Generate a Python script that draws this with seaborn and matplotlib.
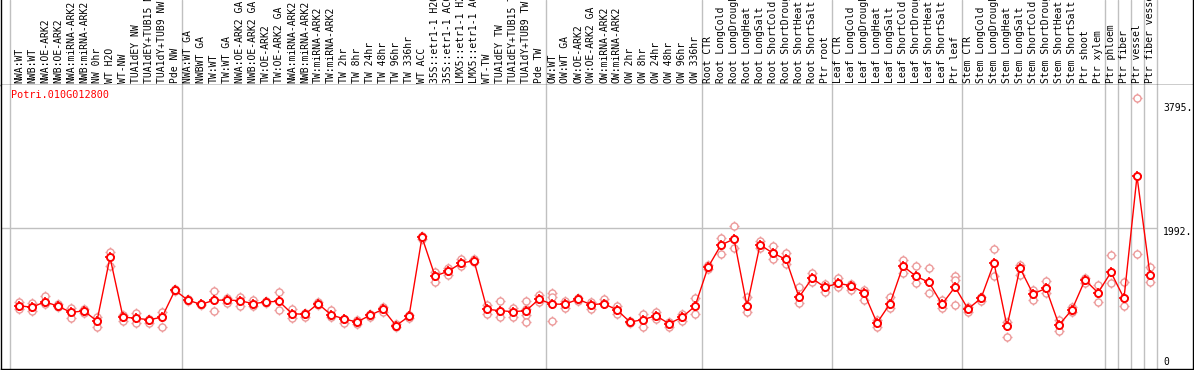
import numpy as np
import pandas as pd
import matplotlib
matplotlib.use("Agg")
import matplotlib.pyplot as plt
import seaborn as sns

# sample labels, in plotting order
labels = [
    "NWA:WT", "NWB:WT", "NWA:OE-ARK2", "NWB:OE-ARK2", "NWA:miRNA-ARK2", "NWB:miRNA-ARK2",
    "NW 0hr", "WT H2O", "WT-NW", "TUA1dEY NW", "TUA1dEY+TUB15 NW", "TUA1dY+TUB9 NW", "Pde NW",
    "NWA:WT GA", "NWBWT GA", "TW:WT", "TW:WT GA", "NWA:OE-ARK2 GA", "NWB:OE-ARK2 GA",
    "TW:OE-ARK2", "TW:OE-ARK2 GA", "NWA:miRNA-ARK2", "NWB:miRNA-ARK2", "TW:miRNA-ARK2",
    "TW:miRNA-ARK2", "TW 2hr", "TW 8hr", "TW 24hr", "TW 48hr", "TW 96hr", "TW 336hr", "WT ACC",
    "35S::etr1-1 H2O", "35S::etr1-1 ACC", "LMX5::etr1-1 H2O", "LMX5::etr1-1 ACC", "WT-TW",
    "TUA1dEY TW", "TUA1dEY+TUB15 TW", "TUA1dY+TUB9 TW", "Pde TW",
    "OW:WT", "OW:WT GA", "OW:OE-ARK2", "OW:OE-ARK2 GA", "OW:miRNA-ARK2", "OW:miRNA-ARK2",
    "OW 2hr", "OW 8hr", "OW 24hr", "OW 48hr", "OW 96hr", "OW 336hr",
    "Root CTR", "Root LongCold", "Root LongDrought", "Root LongHeat", "Root LongSalt",
    "Root ShortCold", "Root ShortDrought", "Root ShortHeat", "Root ShortSalt", "Ptr root",
    "Leaf CTR", "Leaf LongCold", "Leaf LongDrought", "Leaf LongHeat", "Leaf LongSalt",
    "Leaf ShortCold", "Leaf ShortDrought", "Leaf ShortHeat", "Leaf ShortSalt", "Ptr leaf",
    "Stem CTR", "Stem LongCold", "Stem LongDrought", "Stem LongHeat", "Stem LongSalt",
    "Stem ShortCold", "Stem ShortDrought", "Stem ShortHeat", "Stem ShortSalt", "Ptr shoot",
    "Ptr xylem", "Ptr phloem", "Ptr fiber", "Ptr vessel", "Ptr fiber vessel",
]

# number of samples in each block between grey separators
group_sizes = [13, 28, 12, 10, 10, 11, 1, 1, 1, 1]

# mean expression per sample
means = [
    894, 872, 951, 886, 801, 820, 678, 1578, 735, 716, 697, 731, 1112,
    971, 914, 971, 975, 965, 923, 947, 957, 781, 773, 923, 767, 707, 664, 759, 844, 612,
    745, 1861, 1314, 1380, 1494, 1530, 844, 824, 810, 824, 985,
    918, 914, 986, 909, 923, 834, 664, 697, 753, 640, 731, 886,
    1437, 1752, 1837, 886, 1756, 1635, 1550, 1013, 1282, 1154,
    1211, 1177, 1078, 650, 923, 1455, 1310, 1225, 914, 1159,
    848, 999, 1498, 603, 1427, 1060, 1140, 622, 838, 1258, 1078,
    1366, 999, 2723, 1328,
]

# replicate values per sample
reps = [
    [951, 843], [937, 824], [1031, 914], [918, 871], [857, 725], [852, 796], [730, 589],
    [1649, 1451], [763, 683], [796, 654], [711, 654], [805, 589], [1130, 1097],
    [985, 961], [914, 900], [1102, 820], [1008, 933], [1022, 890], [975, 890], [961, 928],
    [1088, 834], [848, 716], [796, 739], [947, 900], [829, 730], [711, 654], [697, 631],
    [777, 739], [881, 805], [631, 598], [763, 725], [1879, 1842], [1375, 1225], [1432, 1328],
    [1550, 1455], [1550, 1512], [900, 773], [961, 735], [866, 730], [961, 843, 767, 660],
    [1041, 951],
    [1078, 1013, 678], [961, 857], [999, 957], [942, 843], [985, 937], [890, 773], [683, 645],
    [777, 589], [810, 711], [669, 593], [777, 678], [1008, 773],
    [1465, 1408], [1856, 1620], [2016, 1705], [1013, 805], [1804, 1705], [1738, 1554],
    [1634, 1479], [1159, 928], [1352, 1234], [1196, 1083],
    [1291, 1163], [1196, 1116], [1116, 970], [692, 598], [1017, 862], [1540, 1352],
    [1451, 1211], [1423, 1069], [975, 857], [1314, 1258, 900],
    [881, 805], [1022, 965], [1691, 1319], [669, 457], [1470, 1328], [1116, 975],
    [1243, 1069], [692, 542], [881, 810], [1291, 1220], [1187, 951],
    [1611, 1211], [1229, 890], [3825, 1625], [1437, 1234],
]

gene = "Potri.010G012800"
ytick_vals = [0, 1992, 3795]

df_mean = pd.DataFrame({"pos": np.arange(len(labels)), "value": means})
df_rep = pd.DataFrame(
    [(i, v) for i, r in enumerate(reps) for v in r], columns=["pos", "value"]
)

sns.set_theme(style="white")
plt.rcParams["font.family"] = ["DejaVu Sans Mono", "DejaVu Sans"]

W, H = 1194, 370
fig = plt.figure(figsize=(W / 100, H / 100), dpi=100)

x0 = (1 - 19) / 13
x1 = (1193 - 19) / 13
ymax = 284 * 1992 / 141

ax_lab = fig.add_axes([1 / W, (H - 85) / H, 1192 / W, 85 / H])
ax = fig.add_axes([1 / W, 1 / H, 1192 / W, 284 / H])

bounds = [-0.7] + list(np.cumsum(group_sizes) - 0.45)

for a in (ax_lab, ax):
    a.set_xlim(x0, x1)
    a.set_xticks([])
    a.set_yticks([])
    for s in ["left", "right", "bottom"]:
        a.spines[s].set_visible(True)
        a.spines[s].set_color("black")
        a.spines[s].set_linewidth(1)
    a.spines["top"].set_visible(False)
    for b in bounds:
        a.axvline(b, color="#c0c0c0", lw=1, zorder=0)

ax_lab.set_ylim(0, 1)
for i, lab in enumerate(labels):
    ax_lab.text(i, 2 / 85, lab, rotation=90, ha="center", va="bottom",
                fontsize=7, color="black", clip_on=True)

ax.set_ylim(0, ymax)
ax.hlines(1992, x0, bounds[-1], color="#c0c0c0", lw=1, zorder=0)

light = "#ec9a9a"
sns.scatterplot(data=df_rep, x="pos", y="value", ax=ax, marker="+", s=42,
                color=light, linewidth=1, zorder=2, legend=False)
sns.scatterplot(data=df_rep, x="pos", y="value", ax=ax, marker="o", s=26,
                facecolor="white", edgecolor=light, linewidth=1, zorder=2.5, legend=False)
sns.lineplot(data=df_mean, x="pos", y="value", ax=ax, color="red", lw=1,
             zorder=3, legend=False)
sns.scatterplot(data=df_mean, x="pos", y="value", ax=ax, marker="+", s=46,
                color="red", linewidth=1.2, zorder=4, legend=False)
sns.scatterplot(data=df_mean, x="pos", y="value", ax=ax, marker="o", s=26,
                facecolor="white", edgecolor="red", linewidth=1.4, zorder=5, legend=False)
ax.set_xlabel("")
ax.set_ylabel("")

ax.text(10 / 1192, 1 - 10 / 284, gene, transform=ax.transAxes, color="red",
        fontsize=7.3, ha="left", va="center")

# y labels to the right of the last column
label_px = [362, 232, 108]
for v, py in zip(ytick_vals, label_px):
    txt = str(v) if v == 0 else f"{v}."
    ax.text((1163 - 1) / 1192, (369 - py) / 284, txt, transform=ax.transAxes,
            fontsize=7, ha="left", va="center", color="black")

fig.savefig("out.png", dpi=100)
